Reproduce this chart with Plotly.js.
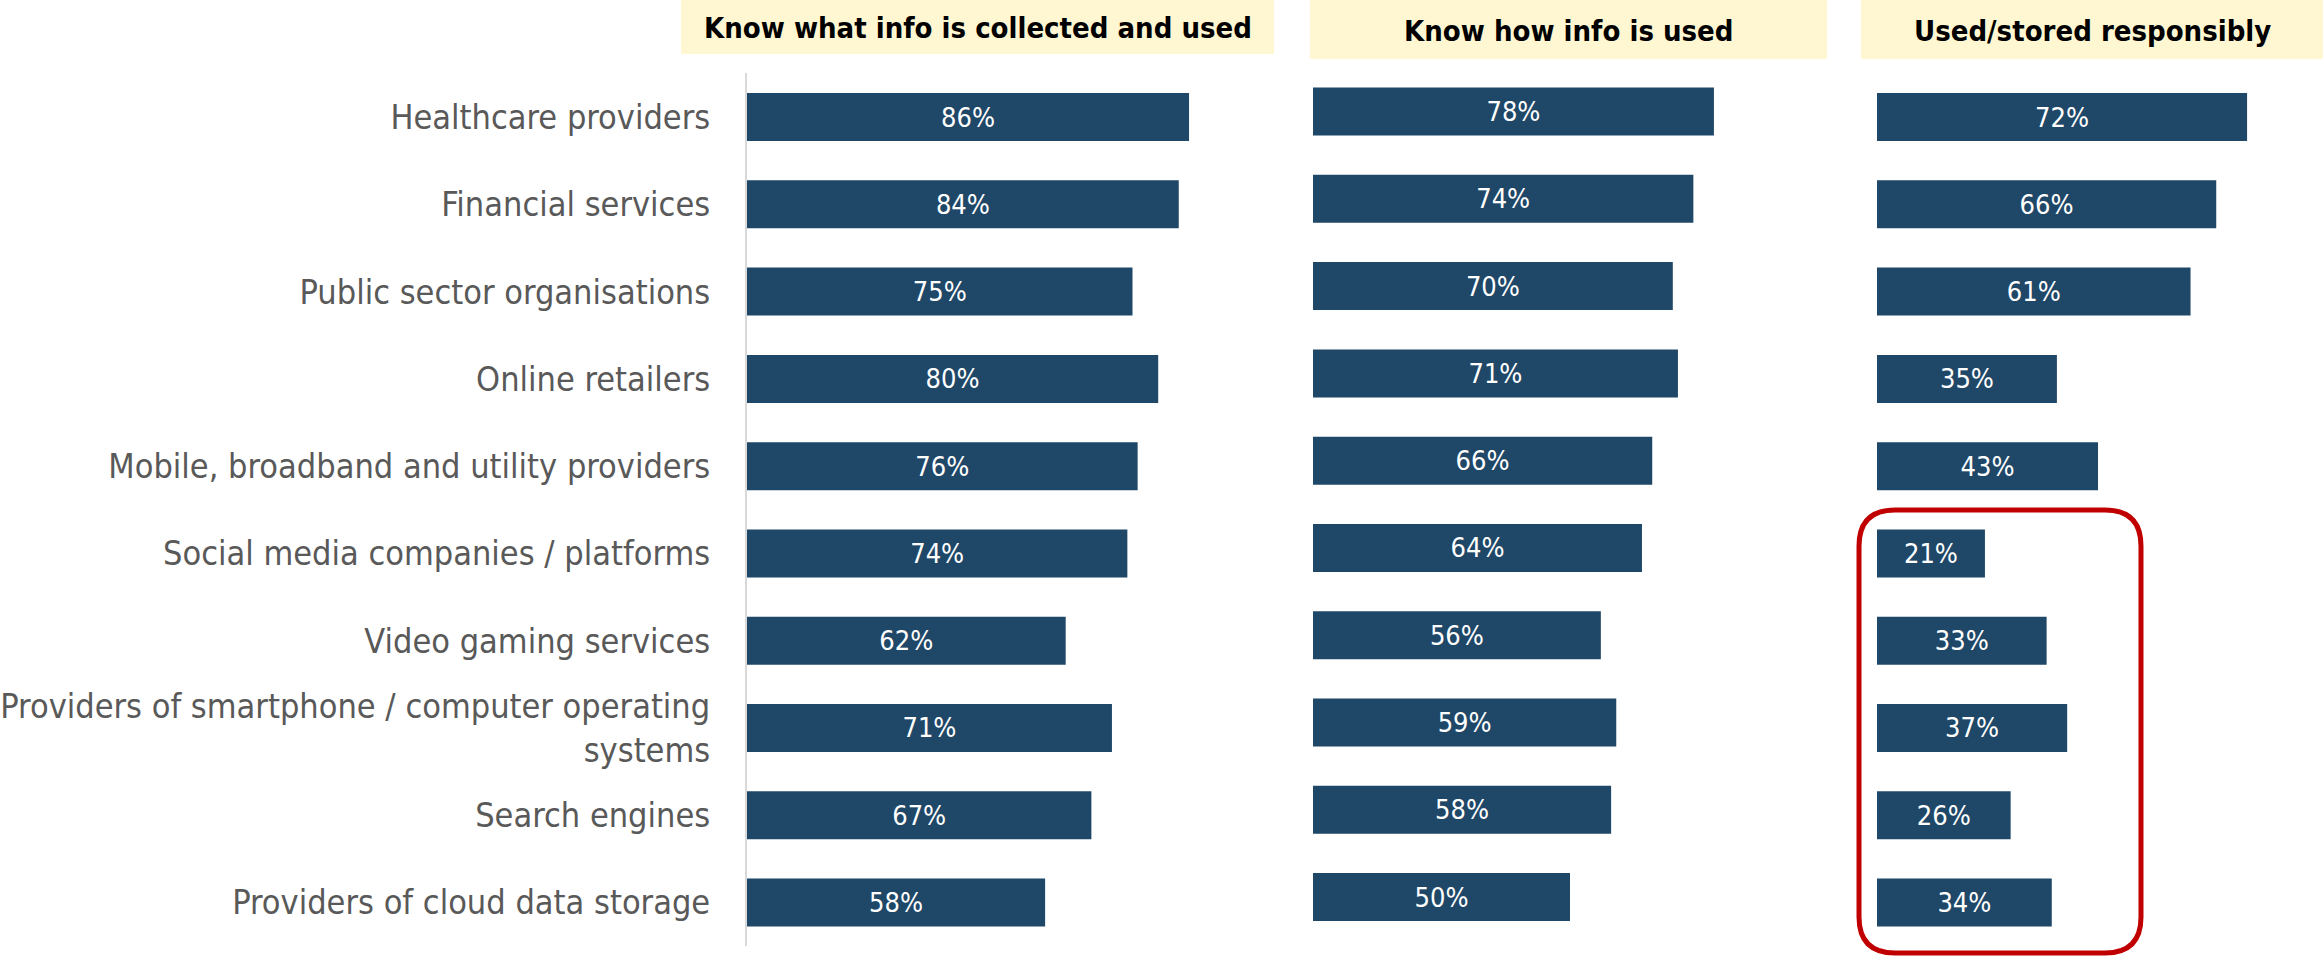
<!DOCTYPE html>
<html>
<head>
<meta charset="utf-8">
<script src="https://cdn.plot.ly/plotly-3.0.1.min.js"></script>
<style>html,body{margin:0;padding:0;background:#fff;}</style>
</head>
<body>
<div id="chart" style="width:2323px;height:958px;"></div>
<script>
const categories = [
  "Healthcare providers",
  "Financial services",
  "Public sector organisations",
  "Online retailers",
  "Mobile, broadband and utility providers",
  "Social media companies / platforms",
  "Video gaming services",
  "Providers of smartphone / computer operating systems",
  "Search engines",
  "Providers of cloud data storage"
];
const tickLabels = [
  "Healthcare providers",
  "Financial services",
  "Public sector organisations",
  "Online retailers",
  "Mobile, broadband and utility providers",
  "Social media companies / platforms",
  "Video gaming services",
  "Providers of smartphone / computer operating<br>systems",
  "Search engines",
  "Providers of cloud data storage"
];
const knowCollected = [86, 84, 75, 80, 76, 74, 62, 71, 67, 58];
const knowUsed = [78, 74, 70, 71, 66, 64, 56, 59, 58, 50];
const storedResponsibly = [72, 66, 61, 35, 43, 21, 33, 37, 26, 34];
const headers = ["Know what info is collected and used", "Know how info is used", "Used/stored responsibly"];

const W = 2323, H = 958;
const FONT = "'Liberation Sans Narrow', 'DejaVu Sans Condensed', 'Liberation Sans', sans-serif";
const barColor = "#1F4767";

function bar(x, xa, ya) {
  return {
    type: "bar", orientation: "h",
    x: x, y: categories, xaxis: xa, yaxis: ya,
    width: 0.55,
    marker: {color: barColor},
    texttemplate: "%{x}%",
    textposition: "inside",
    insidetextanchor: "middle",
    textangle: 0,
    textfont: {color: "#ffffff", size: 27, family: FONT},
    hoverinfo: "skip",
    showlegend: false
  };
}

const data = [
  bar(knowCollected, "x", "y"),
  bar(knowUsed, "x2", "y2"),
  bar(storedResponsibly, "x3", "y3")
];

const xr = [0, 86.5];
function px(x) { return x / W; }
function py(y) { return 1 - y / H; }

const xaxisBase = {range: xr, showgrid: false, zeroline: false, showticklabels: false, showline: false, fixedrange: true};
const yBase = {type: "category", range: [9.5, -0.5], showgrid: false, zeroline: false, fixedrange: true,
  categoryorder: "array", categoryarray: categories};

const dom1 = [px(747), px(747 + 86.5 * 5.14)];
const dom2 = [px(1313), px(1313 + 86.5 * 5.14)];
const dom3 = [px(1877), Math.min(1, px(1877 + 86.5 * 5.14))];
const yd13 = [py(946.2), py(73.4)];
const yd2 = [py(940.7), py(67.9)];

// rounded rectangle highlight (pixel geometry -> paper)
function roundRect(x0, y0, x1, y1, r) {
  const P = (x, y) => px(x).toFixed(5) + "," + py(y).toFixed(5);
  return "M" + P(x0 + r, y0) + " L" + P(x1 - r, y0) +
    " Q" + P(x1, y0) + " " + P(x1, y0 + r) +
    " L" + P(x1, y1 - r) +
    " Q" + P(x1, y1) + " " + P(x1 - r, y1) +
    " L" + P(x0 + r, y1) +
    " Q" + P(x0, y1) + " " + P(x0, y1 - r) +
    " L" + P(x0, y0 + r) +
    " Q" + P(x0, y0) + " " + P(x0 + r, y0) + " Z";
}

const headerBoxes = [[681, 1274, 0, 54], [1310, 1827, 0, 59], [1861, 2323, 0, 59]];
const shapes = headerBoxes.map(b => ({
  type: "rect", xref: "paper", yref: "paper",
  x0: px(b[0]), x1: px(b[1]), y0: py(b[3]), y1: py(b[2]),
  fillcolor: "#FFF7D1", line: {width: 0}, layer: "below"
}));
shapes.push({
  type: "path", xref: "paper", yref: "paper",
  path: roundRect(1859, 510, 2141, 953, 36),
  line: {color: "#C00000", width: 5}, fillcolor: "rgba(0,0,0,0)"
});

const headerTextY = [28, 31, 31];
const annotations = headers.map((h, i) => ({
  text: "<b>" + h + "</b>",
  xref: "paper", yref: "paper",
  x: px((headerBoxes[i][0] + headerBoxes[i][1]) / 2),
  y: py(headerTextY[i]),
  xanchor: "center", yanchor: "middle", showarrow: false,
  font: {family: FONT, size: 29, color: "#000000"}
}));

const layout = {
  width: W, height: H,
  margin: {l: 0, r: 0, t: 0, b: 0, pad: 0},
  paper_bgcolor: "#ffffff", plot_bgcolor: "rgba(0,0,0,0)",
  font: {family: FONT},
  bargap: 0.45,
  xaxis: Object.assign({}, xaxisBase, {domain: dom1, anchor: "y"}),
  xaxis2: Object.assign({}, xaxisBase, {domain: dom2, anchor: "y2"}),
  xaxis3: Object.assign({}, xaxisBase, {domain: dom3, anchor: "y3"}),
  yaxis: Object.assign({}, yBase, {domain: yd13, anchor: "x",
    showline: true, linecolor: "#D9D9D9", linewidth: 2,
    tickmode: "array", tickvals: categories, ticktext: tickLabels,
    ticks: "", ticklabelstandoff: 28,
    tickfont: {family: FONT, size: 34, color: "#595959"}}),
  yaxis2: Object.assign({}, yBase, {domain: yd2, anchor: "x2", showticklabels: false, showline: false}),
  yaxis3: Object.assign({}, yBase, {domain: yd13, anchor: "x3", showticklabels: false, showline: false}),
  shapes: shapes,
  annotations: annotations
};

Plotly.newPlot("chart", data, layout, {displayModeBar: false, staticPlot: true});
</script>
</body>
</html>
